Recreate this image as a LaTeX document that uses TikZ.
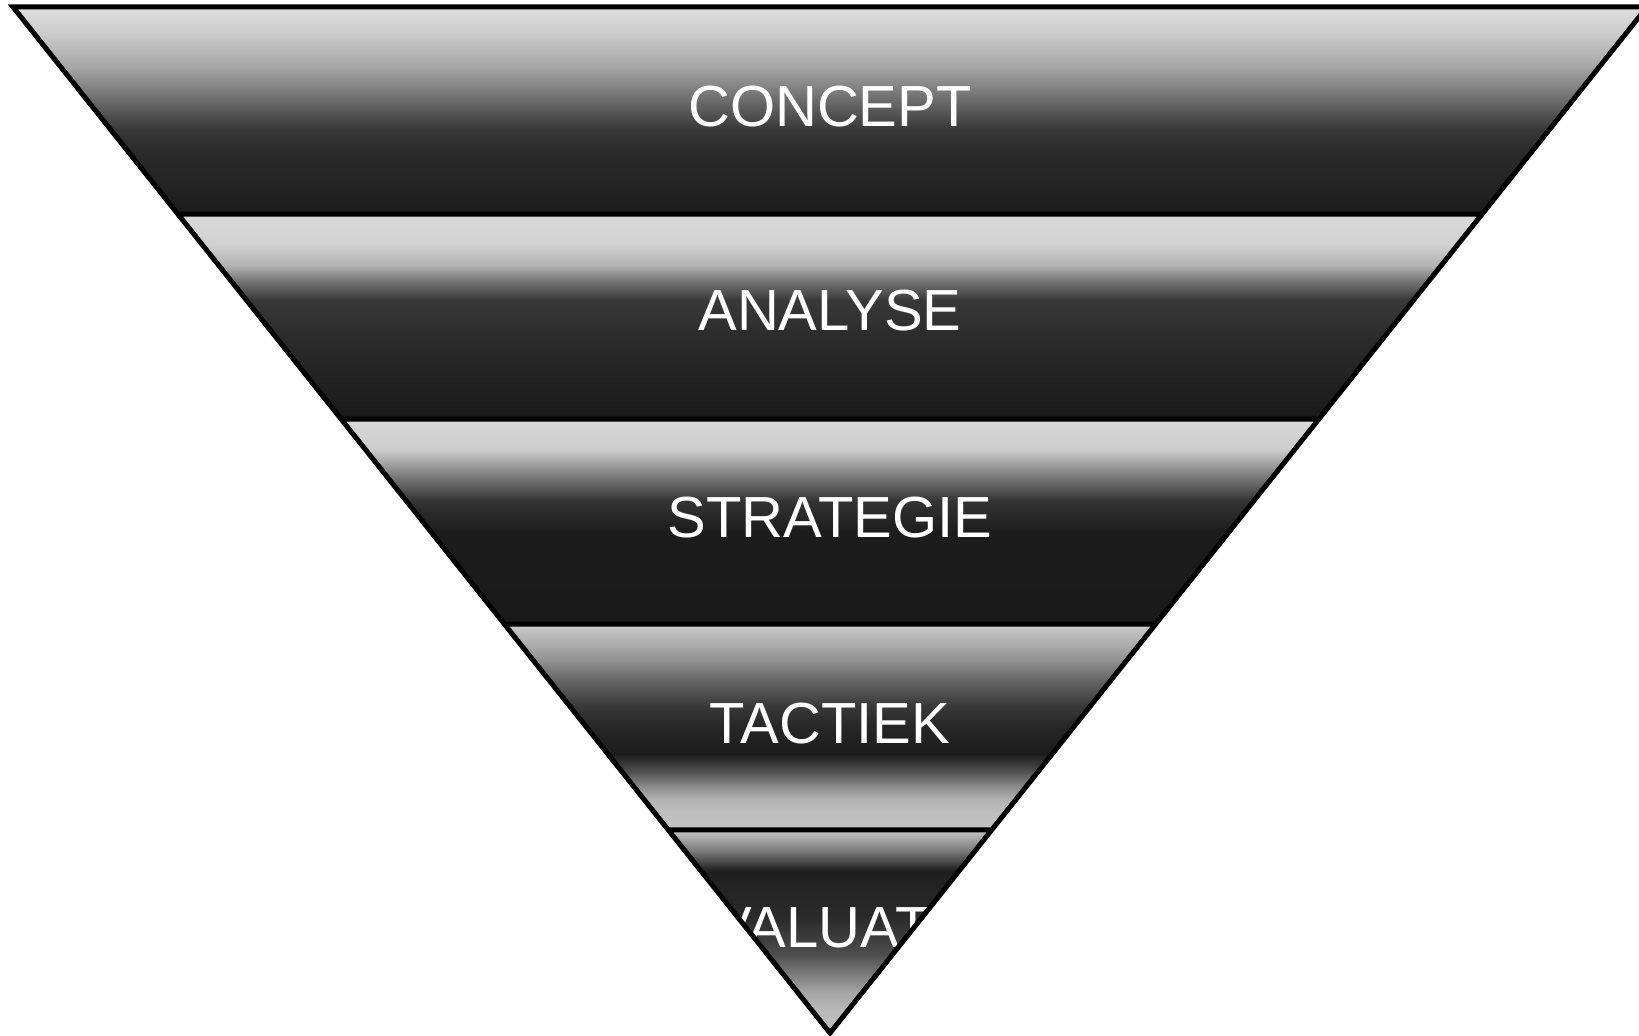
\documentclass[tikz,border=0pt]{standalone}
\usepackage{fontspec}
\setmainfont{Liberation Sans}
\usetikzlibrary{calc}
\pgfdeclareverticalshading{concept}{100bp}{color(0bp)=(white!11!black); color(25bp)=(white!11!black); color(40.5bp)=(white!17!black); color(45.5bp)=(white!22!black); color(52.5bp)=(white!42!black); color(60.5bp)=(white!65!black); color(68.7bp)=(white!80!black); color(75bp)=(white!87!black); color(100bp)=(white!87!black)}
\pgfdeclareverticalshading{analyse}{100bp}{color(0bp)=(white!10!black); color(25bp)=(white!10!black); color(45bp)=(white!17!black); color(54bp)=(white!22!black); color(58.5bp)=(white!45!black); color(62.5bp)=(white!70!black); color(67.5bp)=(white!82!black); color(75bp)=(white!85!black); color(100bp)=(white!85!black)}
\pgfdeclareverticalshading{strategie}{100bp}{color(0bp)=(white!10!black); color(25bp)=(white!10!black); color(47.5bp)=(white!11!black); color(55bp)=(white!20!black); color(61.5bp)=(white!50!black); color(67.5bp)=(white!80!black); color(75bp)=(white!85!black); color(100bp)=(white!85!black)}
\pgfdeclareverticalshading{tactiek}{100bp}{color(0bp)=(white!76!black); color(25bp)=(white!76!black); color(29bp)=(white!75!black); color(32.5bp)=(white!70!black); color(35.5bp)=(white!55!black); color(39.5bp)=(white!30!black); color(43.5bp)=(white!11!black); color(50bp)=(white!15!black); color(55bp)=(white!22!black); color(61.5bp)=(white!40!black); color(66.5bp)=(white!58!black); color(75bp)=(white!80!black); color(100bp)=(white!80!black)}
\pgfdeclareverticalshading{evaluatie}{100bp}{color(0bp)=(white!75!black); color(25bp)=(white!75!black); color(30.5bp)=(white!73!black); color(35bp)=(white!65!black); color(40.5bp)=(white!45!black); color(44.5bp)=(white!30!black); color(53bp)=(white!17!black); color(65bp)=(white!12!black); color(69.5bp)=(white!45!black); color(75bp)=(white!78!black); color(100bp)=(white!78!black)}

\begin{document}
\begin{tikzpicture}[x=0.5pt, y=0.5pt]
\useasboundingbox (0,0) rectangle (1639,1035);
\coordinate (tl) at (13,1028);
\coordinate (tr) at (1647,1028);
\coordinate (ap) at (830,2);
\foreach \i/\f in {1/0.2018, 2/0.4016, 3/0.6014, 4/0.8021}{
	\coordinate (l\i) at ($(tl)!\f!(ap)$);
	\coordinate (r\i) at ($(tr)!\f!(ap)$);
}
% bands
\shade[shading=concept] (tl) -- (tr) -- (r1) -- (l1) -- cycle;
\shade[shading=analyse] (l1) -- (r1) -- (r2) -- (l2) -- cycle;
\shade[shading=strategie] (l2) -- (r2) -- (r3) -- (l3) -- cycle;
\shade[shading=tactiek] (l3) -- (r3) -- (r4) -- (l4) -- cycle;
\shade[shading=evaluatie] (l4) -- (r4) -- (ap) -- cycle;
% labels
\tikzstyle{every node} = [text=white, font=\fontsize{29}{35}\selectfont, inner sep=0pt]
\node (concept) at (830,928.5) {CONCEPT};
\node (analyse) at (830,724) {ANALYSE};
\node (strategie) at (830,517.5) {STRATEGIE};
\node (tactiek) at (830,311.5) {TACTIEK};
\begin{scope}
\clip (l4) -- (r4) -- (ap) -- cycle;
\node (evaluatie) at (830,107) {EVALUATIE};
\end{scope}
% outline
\draw[line width=2.5pt] (tl) -- (tr) -- (ap) -- cycle
	(l1) -- (r1)
	(l2) -- (r2)
	(l3) -- (r3)
	(l4) -- (r4);
\end{tikzpicture}
\end{document}
